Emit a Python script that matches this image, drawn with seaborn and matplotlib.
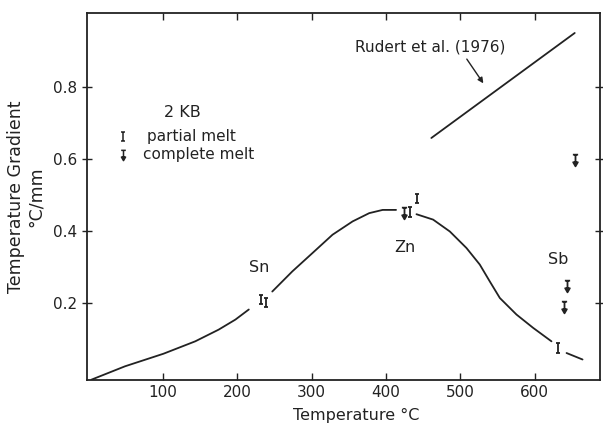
import matplotlib
matplotlib.use("Agg")
import matplotlib.pyplot as plt
import seaborn as sns
from matplotlib.path import Path

# ---- data ----
seg1_x = [3.6, 48.6, 100.4, 143.2, 174.7, 197.3, 215.3]
seg1_y = [-0.014, 0.023, 0.058, 0.0925, 0.125, 0.153, 0.181]
seg2_x = [246.9, 273.9, 301.0, 328.0, 355.0, 377.4, 395.5, 413.5]
seg2_y = [0.231, 0.287, 0.338, 0.389, 0.426, 0.449, 0.458, 0.458]
seg3_x = [441.0, 463.4, 485.9, 508.3, 526.2, 539.7, 553.2, 575.6, 598.0, 622.7]
seg3_y = [0.446, 0.431, 0.398, 0.352, 0.306, 0.259, 0.213, 0.167, 0.130, 0.0925]
seg4_x = [643.0, 664.5]
seg4_y = [0.060, 0.042]
rudert_x = [461, 654]
rudert_y = [0.658, 0.950]

partial_x = [232, 238, 432, 442, 631]
partial_y = [0.208, 0.201, 0.452, 0.490, 0.074]
complete_x = [424, 644, 639, 655]
complete_y = [0.448, 0.247, 0.188, 0.597]

x_ticks = [100, 200, 300, 400, 500, 600]
y_ticks = [0.2, 0.4, 0.6, 0.8]
metal_labels = ["Sn", "Zn", "Sb"]
metal_x = [229, 425, 632]
metal_y = [0.297, 0.353, 0.320]

sns.set_theme(style="white")
plt.rcParams['font.family'] = ['DejaVu Sans']

fig = plt.figure(figsize=(6.03, 4.26), dpi=100)
ax = fig.add_axes([0.144, 0.108, 0.851, 0.861])

ink = "#222222"
for xs, ys in [(seg1_x, seg1_y), (seg2_x, seg2_y), (seg3_x, seg3_y),
               (seg4_x, seg4_y), (rudert_x, rudert_y)]:
    sns.lineplot(x=xs, y=ys, ax=ax, color=ink, lw=1.3, sort=False,
                 estimator=None)

ibeam = Path([(-0.45, 1), (0.45, 1), (0, 1), (0, -1), (-0.45, -1), (0.45, -1)],
             [Path.MOVETO, Path.LINETO, Path.MOVETO, Path.LINETO,
              Path.MOVETO, Path.LINETO])
arrow = Path([(-0.45, 1), (0.45, 1), (0, 1), (0, -0.3),
              (-0.4, -0.3), (0.4, -0.3), (0, -1), (-0.4, -0.3)],
             [Path.MOVETO, Path.LINETO, Path.MOVETO, Path.LINETO,
              Path.MOVETO, Path.LINETO, Path.LINETO, Path.CLOSEPOLY])

ax.scatter(partial_x, partial_y, marker=ibeam, s=45, facecolors="none",
           edgecolors=ink, linewidths=1.3, zorder=3)
ax.scatter(complete_x, complete_y, marker=arrow, s=70, facecolors=ink,
           edgecolors=ink, linewidths=1.3, zorder=3)

# legend
ax.text(126.5, 0.728, "2 KB", fontsize=11.5, ha="center", va="center", color=ink)
ax.scatter([46], [0.662], marker=ibeam, s=35, facecolors="none",
           edgecolors=ink, linewidths=1.1)
ax.scatter([46], [0.612], marker=arrow, s=55, facecolors=ink,
           edgecolors=ink, linewidths=1.1)
ax.text(78, 0.662, "partial melt", fontsize=11, va="center", color=ink)
ax.text(72.7, 0.612, "complete melt", fontsize=11, va="center", color=ink)

for lab, lx, ly in zip(metal_labels, metal_x, metal_y):
    ax.text(lx, ly, lab, fontsize=11.5, ha="center", va="center", color=ink)

ax.annotate("Rudert et al. (1976)", xy=(531, 0.81), xytext=(460, 0.911),
            ha="center", va="center", fontsize=11, color=ink,
            arrowprops=dict(arrowstyle="-|>", color=ink, lw=1.0,
                            shrinkA=4, shrinkB=0, mutation_scale=8,
                            patchA=None, relpos=(0.72, 0.0)))

ax.set_xlim(-2.7, 688)
ax.set_ylim(-0.015, 1.005)
ax.set_xticks(x_ticks)
ax.set_yticks(y_ticks)
ax.set_xticklabels([str(v) for v in x_ticks])
ax.set_yticklabels([f"{v:.1f}" for v in y_ticks])
ax.tick_params(direction="in", length=5, width=1, colors=ink, labelsize=11,
               top=True, right=True, bottom=True, left=True)
ax.tick_params(axis="y", direction="inout", length=7)
for s in ax.spines.values():
    s.set_color(ink)
    s.set_linewidth(1.3)

ax.set_xlabel("Temperature °C", fontsize=11.5, color=ink)
ax.xaxis.set_label_coords(0.524, -0.075)
ax.set_ylabel("Temperature Gradient\n°C/mm", fontsize=12.5, color=ink,
              linespacing=1.15)
ax.yaxis.set_label_coords(-0.082, 0.50)

fig.savefig("out.png", dpi=100)
